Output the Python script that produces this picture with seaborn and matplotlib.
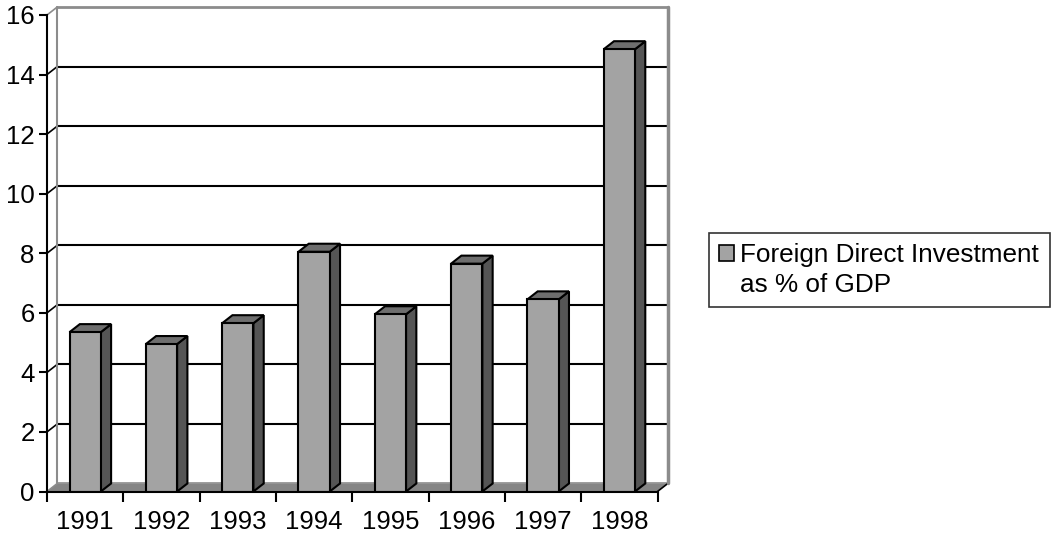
import numpy as np
import pandas as pd
import matplotlib
matplotlib.use("Agg")
import matplotlib.pyplot as plt
import seaborn as sns
from matplotlib.patches import Polygon, Patch
from matplotlib.ticker import FixedLocator

# Data
years = ["1991", "1992", "1993", "1994", "1995", "1996", "1997", "1998"]
fdi_pct = [5.35, 4.95, 5.65, 8.05, 5.95, 7.65, 6.45, 14.85]
y_ticks = [0, 2, 4, 6, 8, 10, 12, 14, 16]
legend_lines = ["Foreign Direct Investment", "as % of GDP"]

df = pd.DataFrame({"year": years, "fdi": fdi_pct})

# Colours of the old 3-D column look
FRONT = "#a3a3a3"
SIDE = "#555555"
TOP = "#6e6e6e"
FLOOR = "#858585"
WALL_EDGE = "#8c8c8c"

sns.set_theme(style="white")
plt.rcParams["font.family"] = ["Liberation Sans", "DejaVu Sans"]

W, H = 1058, 534
fig = plt.figure(figsize=(W / 100, H / 100), dpi=100)
ax = fig.add_axes([47 / W, (H - 491.5) / H, (657.5 - 47) / W, (491.5 - 15) / H])

sns.barplot(data=df, x="year", y="fdi", color=FRONT, width=0.41,
            edgecolor="black", linewidth=1.5, saturation=1, ax=ax, zorder=5)

ax.set_xlim(-0.5, len(years) - 0.5)
ax.set_ylim(0, 16)

# depth offset of the 3-D effect in data units
dx, dy = 0.135, 0.27
x0, x1 = -0.5, len(years) - 0.5

# floor
ax.add_patch(Polygon([(x0, 0), (x1, 0), (x1 + dx, dy), (x0 + dx, dy)],
                     closed=True, facecolor=FLOOR, edgecolor="none",
                     zorder=1, clip_on=False))
ax.plot([x0 + dx, x1 + dx], [dy, dy], color=WALL_EDGE, lw=1.2, zorder=1.5, clip_on=False)
ax.plot([x1, x1 + dx], [0, dy], color="black", lw=1.2, zorder=1.5, clip_on=False)

# back wall gridlines and edges
for v in y_ticks:
    c = "black" if 0 < v < 16 else WALL_EDGE
    if v > 0:
        ax.plot([x0 + dx, x1 + dx], [v + dy, v + dy], color=c, lw=1.5 if v < 16 else 2,
                zorder=2, clip_on=False)
    ax.plot([x0, x0 + dx], [v, v + dy], color=c, lw=1.2, zorder=2, clip_on=False)
ax.plot([x0 + dx, x0 + dx], [dy, 16 + dy], color=WALL_EDGE, lw=1.5, zorder=2, clip_on=False)
ax.plot([x1 + dx, x1 + dx], [dy, 16 + dy], color=WALL_EDGE, lw=2.5, zorder=2, clip_on=False)

# side and top faces of each column
for bar in ax.patches[:len(years)]:
    bx, bw, bh = bar.get_x(), bar.get_width(), bar.get_height()
    side = [(bx + bw, 0), (bx + bw + dx, dy), (bx + bw + dx, bh + dy), (bx + bw, bh)]
    top = [(bx, bh), (bx + bw, bh), (bx + bw + dx, bh + dy), (bx + dx, bh + dy)]
    ax.add_patch(Polygon(side, closed=True, facecolor=SIDE, edgecolor="black",
                         lw=1.5, zorder=4, clip_on=False))
    ax.add_patch(Polygon(top, closed=True, facecolor=TOP, edgecolor="black",
                         lw=1.5, zorder=4, clip_on=False, joinstyle="miter"))

# axes
for s in ["top", "right"]:
    ax.spines[s].set_visible(False)
for s in ["left", "bottom"]:
    ax.spines[s].set_color("black")
    ax.spines[s].set_linewidth(1.5)
    ax.spines[s].set_zorder(6)

ax.set_yticks(y_ticks)
ax.tick_params(axis="y", direction="out", length=6, width=1.5, color="black",
               labelsize=18.5, pad=3, left=True, labelcolor="black")
ax.set_xticks(range(len(years)))
ax.set_xticklabels(years)
ax.xaxis.set_minor_locator(FixedLocator(np.arange(-0.5, len(years), 1.0)))
ax.tick_params(axis="x", which="major", length=0, labelsize=18.5, pad=13,
               labelcolor="black")
ax.tick_params(axis="x", which="minor", direction="out", length=7, width=1.5,
               color="black", bottom=True)
ax.set_xlabel("")
ax.set_ylabel("")
ax.grid(False)

# legend: marker on the first line, second line indented under the text
handles = [Patch(facecolor=FRONT, edgecolor="black", linewidth=1.2),
           Patch(facecolor="none", edgecolor="none")]
leg = fig.legend(handles, legend_lines, loc="upper left",
                 bbox_to_anchor=(709 / W, 1 - 233 / H), frameon=True,
                 fancybox=False, fontsize=18.8, handlelength=0.55,
                 handleheight=0.55, handletextpad=0.25, borderpad=0.4,
                 borderaxespad=0, labelspacing=0.2)
leg.get_frame().set_edgecolor("black")
leg.get_frame().set_linewidth(1.2)
for t in leg.get_texts():
    t.set_color("black")

fig.savefig("out.png", dpi=100)
